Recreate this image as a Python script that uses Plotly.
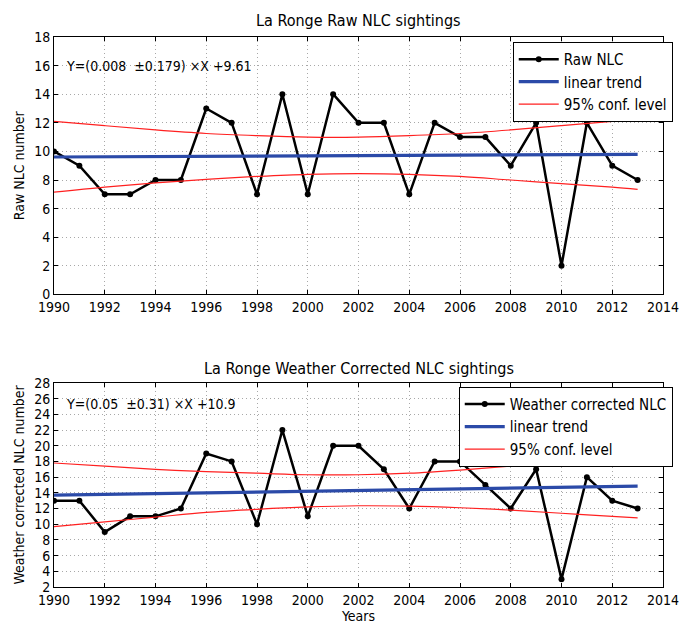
import plotly.graph_objects as go

years = list(range(1990, 2014))
raw_nlc = [10, 9, 7, 7, 8, 8, 13, 12, 7, 14, 7, 14, 12, 12, 7, 12, 11, 11, 9, 12, 2, 12, 9, 8]
wc_nlc = [13, 13, 9, 11, 11, 12, 19, 18, 10, 22, 11, 20, 20, 17, 12, 18, 18, 15, 12, 17, 3, 16, 13, 12]

trend_years = [1990, 2013]
raw_trend = [9.61, 9.79]
wc_trend = [13.7, 14.85]

conf_years = [1990, 1992, 1994, 1996, 1998, 2000, 2002, 2004, 2006, 2008, 2010, 2012, 2013]
raw_upper = [12.1, 11.8, 11.5, 11.25, 11.1, 11.0, 11.0, 11.1, 11.25, 11.5, 11.8, 12.1, 12.25]
raw_lower = [7.15, 7.5, 7.8, 8.05, 8.25, 8.4, 8.45, 8.4, 8.25, 8.0, 7.75, 7.5, 7.35]
wc_upper = [17.8, 17.4, 17.0, 16.7, 16.5, 16.3, 16.3, 16.5, 16.9, 17.4, 17.9, 18.5, 18.85]
wc_lower = [9.7, 10.3, 10.9, 11.5, 11.9, 12.2, 12.35, 12.3, 12.1, 11.8, 11.4, 11.0, 10.8]

x_ticks = list(range(1990, 2015, 2))
raw_yticks = list(range(0, 19, 2))
wc_yticks = list(range(2, 29, 2))

FONT = "DejaVu Sans Condensed, Open Sans, sans-serif"
BLUE = "#2b4aa8"
RED = "#ff2020"

fig = go.Figure()

# top panel
fig.add_trace(go.Scatter(x=years, y=raw_nlc, mode="lines+markers", name="Raw NLC",
                         line=dict(color="black", width=2.5), marker=dict(color="black", size=6),
                         xaxis="x", yaxis="y", legend="legend"))
fig.add_trace(go.Scatter(x=trend_years, y=raw_trend, mode="lines", name="linear trend",
                         line=dict(color=BLUE, width=3.2), xaxis="x", yaxis="y", legend="legend"))
fig.add_trace(go.Scatter(x=conf_years, y=raw_upper, mode="lines", name="95% conf. level",
                         line=dict(color=RED, width=1.2, shape="spline"), xaxis="x", yaxis="y", legend="legend"))
fig.add_trace(go.Scatter(x=conf_years, y=raw_lower, mode="lines", name="95% conf. level",
                         line=dict(color=RED, width=1.2, shape="spline"), xaxis="x", yaxis="y",
                         showlegend=False, legend="legend"))

# bottom panel
fig.add_trace(go.Scatter(x=years, y=wc_nlc, mode="lines+markers", name="Weather corrected NLC",
                         line=dict(color="black", width=2.5), marker=dict(color="black", size=6),
                         xaxis="x2", yaxis="y2", legend="legend2"))
fig.add_trace(go.Scatter(x=trend_years, y=wc_trend, mode="lines", name="linear trend",
                         line=dict(color=BLUE, width=3.2), xaxis="x2", yaxis="y2", legend="legend2"))
fig.add_trace(go.Scatter(x=conf_years, y=wc_upper, mode="lines", name="95% conf. level",
                         line=dict(color=RED, width=1.2, shape="spline"), xaxis="x2", yaxis="y2", legend="legend2"))
fig.add_trace(go.Scatter(x=conf_years, y=wc_lower, mode="lines", name="95% conf. level",
                         line=dict(color=RED, width=1.2, shape="spline"), xaxis="x2", yaxis="y2",
                         showlegend=False, legend="legend2"))

axis_common = dict(showline=True, linecolor="black", linewidth=1, mirror="allticks",
                   ticks="inside", ticklen=4, tickcolor="black",
                   showgrid=True, gridcolor="#a8a8a8", griddash="1px,3px", gridwidth=1,
                   zeroline=False, ticklabeloverflow="allow",
                   tickfont=dict(size=14, color="black", family=FONT))

fig.update_layout(
    width=691, height=632,
    margin=dict(l=54, r=14, t=37, b=35),
    paper_bgcolor="white", plot_bgcolor="white",
    font=dict(family=FONT, color="black", size=14),
    xaxis=dict(domain=[0, 1], range=[1990, 2014], tickvals=x_ticks, anchor="y", **axis_common),
    yaxis=dict(domain=[0.532, 1], range=[0, 18], tickvals=raw_yticks, anchor="x",
               title=dict(text="Raw NLC number", font=dict(size=14), standoff=6), **axis_common),
    xaxis2=dict(domain=[0, 1], range=[1990, 2014], tickvals=x_ticks, anchor="y2",
                title=dict(text="Years", font=dict(size=14), standoff=2), **axis_common),
    yaxis2=dict(domain=[0, 0.371], range=[2, 28], tickvals=wc_yticks, anchor="x2",
                title=dict(text="Weather corrected NLC number", font=dict(size=14), standoff=6), **axis_common),
    legend=dict(x=1.016, y=0.991, xanchor="right", yanchor="top", bgcolor="white",
                bordercolor="black", borderwidth=1, font=dict(size=15, family=FONT),
                itemwidth=40, tracegroupgap=0),
    legend2=dict(x=1.016, y=0.364, xanchor="right", yanchor="top", bgcolor="white",
                 bordercolor="black", borderwidth=1, font=dict(size=15, family=FONT),
                 itemwidth=40, tracegroupgap=0),
    annotations=[
        dict(text="La Ronge Raw NLC sightings", x=0.5, y=1, xref="paper", yref="paper",
             xanchor="center", yanchor="bottom", yshift=5, showarrow=False, font=dict(size=16)),
        dict(text="La Ronge Weather Corrected NLC sightings", x=0.5, y=0.371, xref="paper", yref="paper",
             xanchor="center", yanchor="bottom", yshift=3, showarrow=False, font=dict(size=16)),
        dict(text="Y=(0.008  ±0.179) ×X +9.61", x=1990.4, y=16, xref="x", yref="y",
             xanchor="left", yanchor="middle", showarrow=False, font=dict(size=14)),
        dict(text="Y=(0.05  ±0.31) ×X +10.9", x=1990.4, y=25.3, xref="x2", yref="y2",
             xanchor="left", yanchor="middle", showarrow=False, font=dict(size=14)),
    ],
)

fig.write_html("out.html")
